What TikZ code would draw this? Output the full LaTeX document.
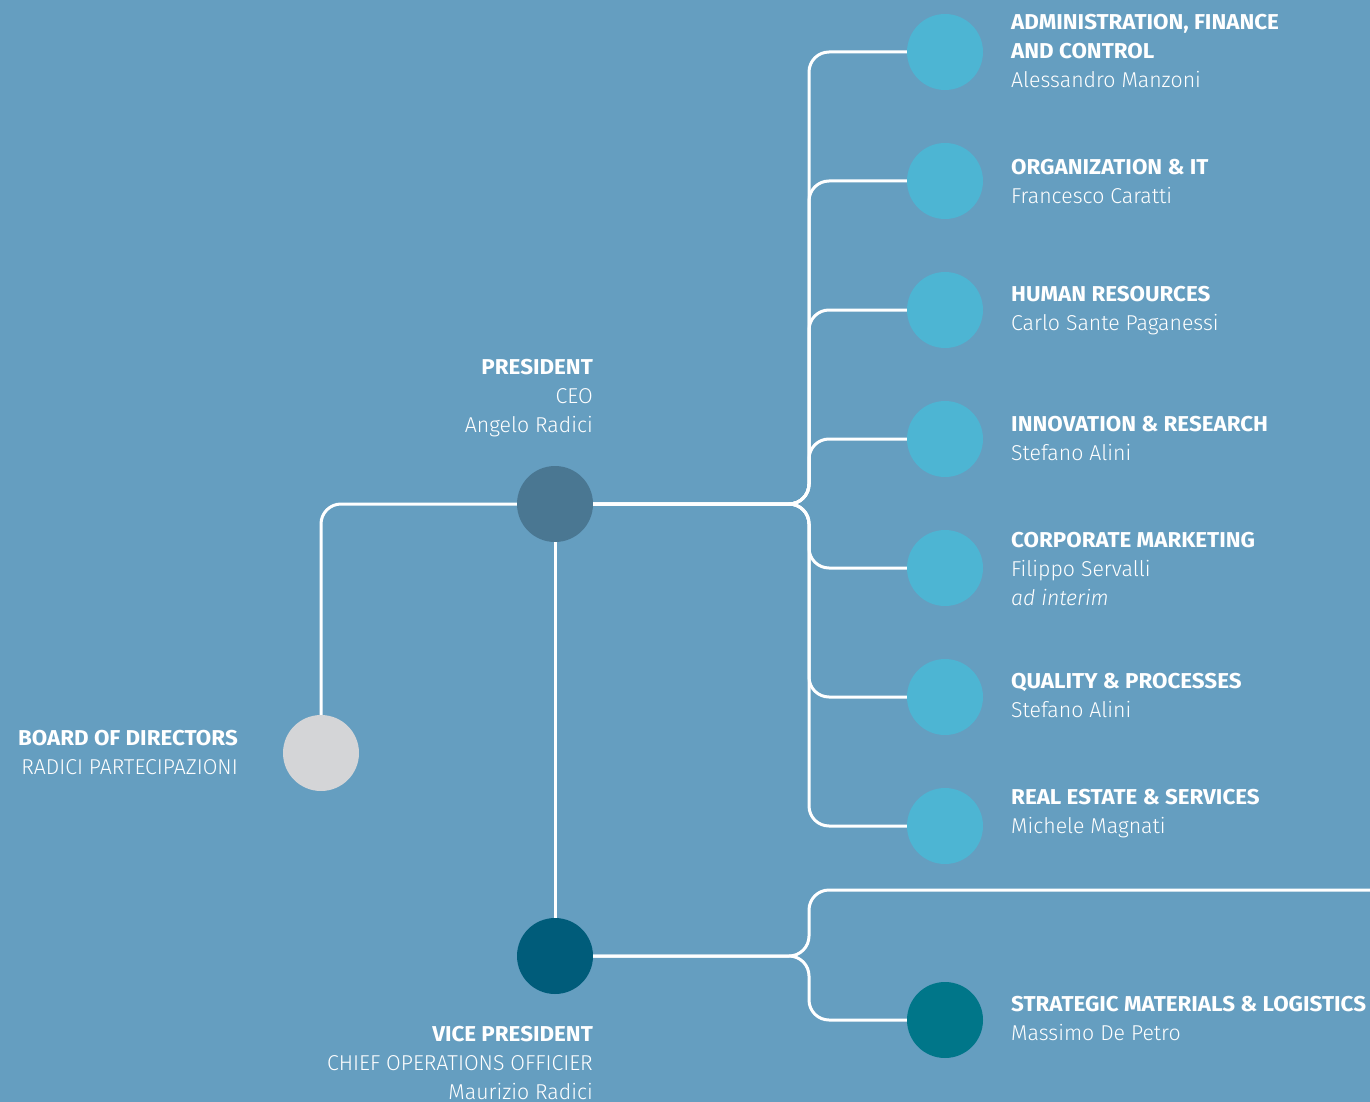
\documentclass[tikz,border=0pt]{standalone}
\usepackage{fontspec}
\setmainfont{Fira Sans}[
  UprightFont={* Light}, UprightFeatures={FakeStretch=0.99},
  ItalicFont={* Light Italic}, ItalicFeatures={FakeStretch=0.99},
  BoldFont={* Bold}, BoldFeatures={FakeStretch=1.04}]
\definecolor{bgblue}{HTML}{659EC0}
\definecolor{unitblue}{HTML}{4DB5D3}
\definecolor{presblue}{HTML}{4A7792}
\definecolor{vpblue}{HTML}{005C7A}
\definecolor{smteal}{HTML}{007689}
\definecolor{boardgrey}{HTML}{D4D5D7}
\begin{document}
\begin{tikzpicture}[x=1pt,y=-1pt,
  unit/.style={circle, minimum size=76pt, inner sep=0pt, fill=#1},
  link/.style={draw=white, line width=3pt, rounded corners=20pt},
  lbl/.style={text=white, inner sep=0pt, font=\fontsize{21.5}{28.8}\selectfont},
  rlbl/.style={lbl, anchor=north west, align=left},
  llbl/.style={lbl, anchor=north east, align=right}]
  % background
  \fill[bgblue] (0,0) rectangle (1370,1102);
  \useasboundingbox (0,0) rectangle (1370,1102);

  % units
  \node[unit=boardgrey] (board) at (321,753) {};
  \node[unit=presblue] (pres) at (555,504) {};
  \node[unit=vpblue] (vp) at (555,956) {};
  \node[unit=unitblue] (afc) at (945,52) {};
  \node[unit=unitblue] (org) at (945,181) {};
  \node[unit=unitblue] (hr) at (945,310) {};
  \node[unit=unitblue] (inn) at (945,439) {};
  \node[unit=unitblue] (mkt) at (945,568) {};
  \node[unit=unitblue] (qp) at (945,697) {};
  \node[unit=unitblue] (res) at (945,826) {};
  \node[unit=smteal] (sml) at (945,1020) {};
  \coordinate (vpout) at (1370,890);

  % connectors
  \path[link] (board.north) -- (321,504) -- (pres.west);
  \path[link] (pres.south) -- (vp.north);
  \foreach \u/\y in {afc/52, org/181, hr/310, inn/439, mkt/568, qp/697, res/826}
    \path[link] (pres.east) -- (809,504) -- (809,\y) -- (\u.west);
  \path[link] (vp.east) -- (809,956) -- (809,890) -- (vpout);
  \path[link] (vp.east) -- (809,956) -- (809,1020) -- (sml.west);

  % labels
  \node[rlbl] (tafc) at (1011,14.5) {\textbf{ADMINISTRATION, FINANCE}\\\textbf{AND CONTROL}\\Alessandro Manzoni};
  \node[rlbl] (torg) at (1011,159.5) {\textbf{ORGANIZATION \& IT}\\Francesco Caratti};
  \node[rlbl] (thr) at (1011,286.5) {\textbf{HUMAN RESOURCES}\\Carlo Sante Paganessi};
  \node[rlbl] (tinn) at (1011,416.5) {\textbf{INNOVATION \& RESEARCH}\\Stefano Alini};
  \node[rlbl] (tmkt) at (1011,532.5) {\textbf{CORPORATE MARKETING}\\Filippo Servalli\\\textit{ad interim}};
  \node[rlbl] (tqp) at (1011,673.5) {\textbf{QUALITY \& PROCESSES}\\Stefano Alini};
  \node[rlbl] (tres) at (1011,789.5) {\textbf{REAL ESTATE \& SERVICES}\\Michele Magnati};
  \node[rlbl] (tsml) at (1011,996.5) {\textbf{STRATEGIC MATERIALS \& LOGISTICS}\\Massimo De Petro};
  \node[llbl] (tpres) at (593,359.5) {\textbf{PRESIDENT}\\CEO\\Angelo Radici};
  \node[llbl] (tboard) at (238,730.5) {\textbf{BOARD OF DIRECTORS}\\RADICI PARTECIPAZIONI};
  \node[llbl] (tvp) at (593,1026.5) {\textbf{VICE PRESIDENT}\\CHIEF OPERATIONS OFFICIER\\Maurizio Radici};
\end{tikzpicture}
\end{document}
